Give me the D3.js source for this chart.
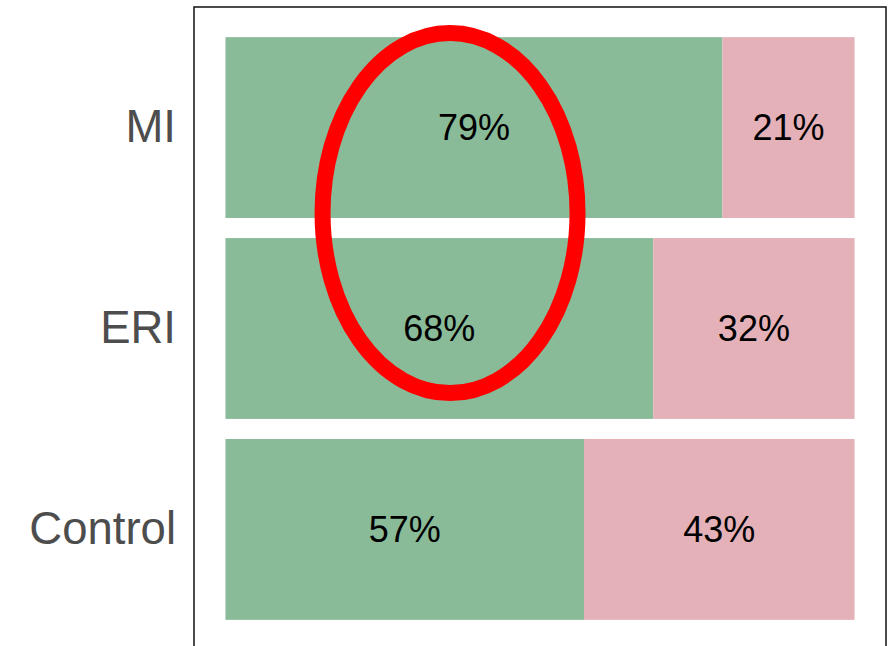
<!DOCTYPE html>
<html>
<head>
<meta charset="utf-8">
<script src="https://cdn.jsdelivr.net/npm/d3@7"></script>
<style>
    body { margin: 0; background: #fff; }
    svg { display: block; font-family: "Liberation Sans", Arial, sans-serif; }
</style>
</head>
<body>
<svg id="chart" width="894" height="646"></svg>
<script>
// groups from top to bottom
var groups = ["MI", "ERI", "Control"];
// share of each group (first segment / second segment)
var firstShare = [0.79, 0.68, 0.57];
var secondShare = [0.21, 0.32, 0.43];
var firstLabels = ["79%", "68%", "57%"];
var secondLabels = ["21%", "32%", "43%"];

var svg = d3.select("#chart");

var panel = { left: 194, right: 886, top: 7, bottom: 650 };

var x = d3.scaleLinear()
    .domain([-0.05, 1.05])
    .range([panel.left, panel.right]);

var y = d3.scaleBand()
    .domain(groups)
    .range([panel.top, panel.bottom])
    .paddingInner(0.1)
    .paddingOuter(0.15);

var rows = groups.map(function(g, i) {
    return {
        group: g,
        a: firstShare[i],
        b: secondShare[i],
        la: firstLabels[i],
        lb: secondLabels[i]
    };
});

var row = svg.append("g")
    .selectAll("g")
    .data(rows)
    .enter().append("g");

row.append("rect")
    .attr("x", x(0))
    .attr("y", function(d) { return y(d.group); })
    .attr("width", function(d) { return x(d.a) - x(0); })
    .attr("height", y.bandwidth())
    .attr("fill", "#89bb99");

row.append("rect")
    .attr("x", function(d) { return x(d.a); })
    .attr("y", function(d) { return y(d.group); })
    .attr("width", function(d) { return x(d.a + d.b) - x(d.a); })
    .attr("height", y.bandwidth())
    .attr("fill", "#e4b1b8");

row.append("text")
    .attr("x", function(d) { return (x(0) + x(d.a)) / 2; })
    .attr("y", function(d) { return y(d.group) + y.bandwidth() / 2; })
    .attr("dy", "0.35em")
    .attr("text-anchor", "middle")
    .style("font-size", "36px")
    .style("fill", "#000")
    .text(function(d) { return d.la; });

row.append("text")
    .attr("x", function(d) { return (x(d.a) + x(d.a + d.b)) / 2; })
    .attr("y", function(d) { return y(d.group) + y.bandwidth() / 2; })
    .attr("dy", "0.35em")
    .attr("text-anchor", "middle")
    .style("font-size", "36px")
    .style("fill", "#000")
    .text(function(d) { return d.lb; });

// y axis labels, no ticks
var yAxis = svg.append("g")
    .attr("transform", "translate(" + panel.left + ",0)")
    .call(d3.axisLeft(y).tickSize(0).tickPadding(18));
yAxis.select(".domain").remove();
yAxis.selectAll("text")
    .attr("font-family", null)
    .style("font-size", "45.5px")
    .style("fill", "#4d4d4d");

// panel border
svg.append("rect")
    .attr("x", panel.left)
    .attr("y", panel.top)
    .attr("width", panel.right - panel.left)
    .attr("height", panel.bottom - panel.top)
    .attr("fill", "none")
    .attr("stroke", "#1e1e1e")
    .attr("stroke-width", 1.6);

// red highlight ellipse over first segments of MI and ERI
var cy = (y("MI") + y("ERI") + y.bandwidth()) / 2 - 15;
svg.append("ellipse")
    .attr("cx", x(0.357))
    .attr("cy", cy)
    .attr("rx", 127.5)
    .attr("ry", 180)
    .attr("fill", "none")
    .attr("stroke", "#ff0000")
    .attr("stroke-width", 16);
</script>
</body>
</html>
